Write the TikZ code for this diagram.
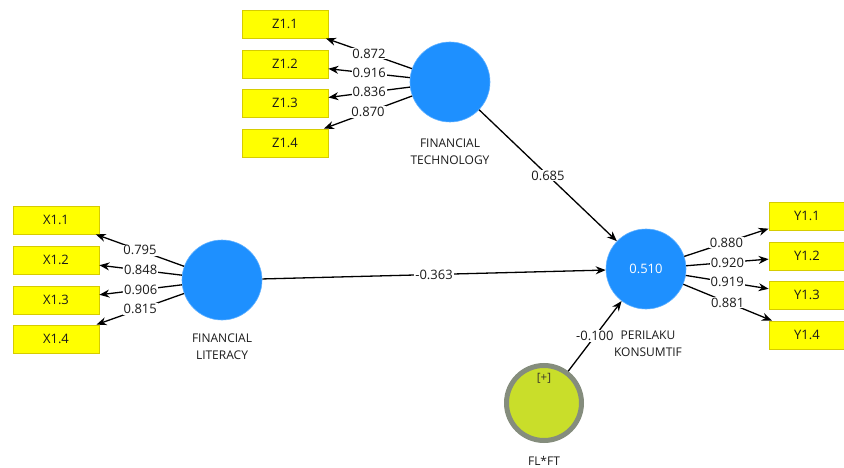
\documentclass[tikz,border=0pt]{standalone}
\usepackage{fontspec}
\setmainfont{Open Sans}
\usetikzlibrary{arrows.meta}
\definecolor{lvblue}{HTML}{1E90FF}
\definecolor{indyellow}{HTML}{FFFF00}
\definecolor{indborder}{HTML}{D6CC00}
\definecolor{modgreen}{HTML}{C9DE2A}
\definecolor{modring}{HTML}{858D7D}
\definecolor{txtgray}{HTML}{1A1A1A}
\begin{document}
\begin{tikzpicture}[x=1pt,y=-1pt,
  indbox/.style={draw=indborder, fill=indyellow, line width=0.8pt, minimum width=86pt, minimum height=28pt, inner sep=0pt, font=\fontsize{13}{15}\selectfont, text=txtgray},
  latent/.style={circle, fill=lvblue, draw=lvblue!70, line width=0.6pt, minimum size=80pt, inner sep=0pt},
  modlatent/.style={circle, fill=modgreen, draw=modring, line width=5pt, minimum size=75pt, inner sep=0pt},
  lvname/.style={align=center, font=\fontsize{12}{17}\selectfont, text=txtgray},
  conn/.style={line width=1.3pt, -{Stealth[length=10pt,width=8pt]}},
  coef/.style={midway, fill=white, inner sep=1pt, font=\fontsize{13}{14}\selectfont, text=txtgray}
]
\useasboundingbox (0,0) rectangle (844,468);
% indicator boxes
\node[indbox] (z1) at (285,24) {Z1.1};
\node[indbox] (z2) at (285,64) {Z1.2};
\node[indbox] (z3) at (285,103) {Z1.3};
\node[indbox] (z4) at (285,143) {Z1.4};
\node[indbox] (x1) at (56,220) {X1.1};
\node[indbox] (x2) at (56,260) {X1.2};
\node[indbox] (x3) at (56,300) {X1.3};
\node[indbox] (x4) at (56,339) {X1.4};
\node[indbox, minimum width=76pt] (y1) at (807,216) {Y1.1};
\node[indbox, minimum width=76pt] (y2) at (807,256) {Y1.2};
\node[indbox, minimum width=76pt] (y3) at (807,295) {Y1.3};
\node[indbox, minimum width=76pt] (y4) at (807,335) {Y1.4};
% latent variables
\node[latent] (ft) at (450,82) {};
\node[latent] (fl) at (222,280) {};
\node[latent, text=white, font=\fontsize{13}{14}\selectfont] (pk) at (646,269) {0.510};
\node[modlatent] (flft) at (544,403) {};
\node[font=\fontsize{11.5}{13}\selectfont, text=black!80!olive] (plus) at (544,378) {[+]};
% names
\node[lvname] (ftname) at (450,152) {FINANCIAL\\TECHNOLOGY};
\node[lvname] (flname) at (222,347) {FINANCIAL\\LITERACY};
\node[lvname] (pkname) at (648,344) {PERILAKU\\KONSUMTIF};
\node[lvname] (flftname) at (544,461) {FL*FT};
% outer loadings
\draw[conn] (ft) -- node[coef] {0.872} (z1);
\draw[conn] (ft) -- node[coef] {0.916} (z2);
\draw[conn] (ft) -- node[coef] {0.836} (z3);
\draw[conn] (ft) -- node[coef] {0.870} (z4);
\draw[conn] (fl) -- node[coef] {0.795} (x1);
\draw[conn] (fl) -- node[coef] {0.848} (x2);
\draw[conn] (fl) -- node[coef] {0.906} (x3);
\draw[conn] (fl) -- node[coef] {0.815} (x4);
\draw[conn] (pk) -- node[coef] {0.880} (y1);
\draw[conn] (pk) -- node[coef] {0.920} (y2);
\draw[conn] (pk) -- node[coef] {0.919} (y3);
\draw[conn] (pk) -- node[coef] {0.881} (y4);
% path coefficients
\draw[conn] (ft) -- node[coef] {0.685} (pk);
\draw[conn] (fl) -- node[coef] {-0.363} (pk);
\draw[conn] (flft) -- node[coef] {-0.100} (pk);
\end{tikzpicture}
\end{document}
